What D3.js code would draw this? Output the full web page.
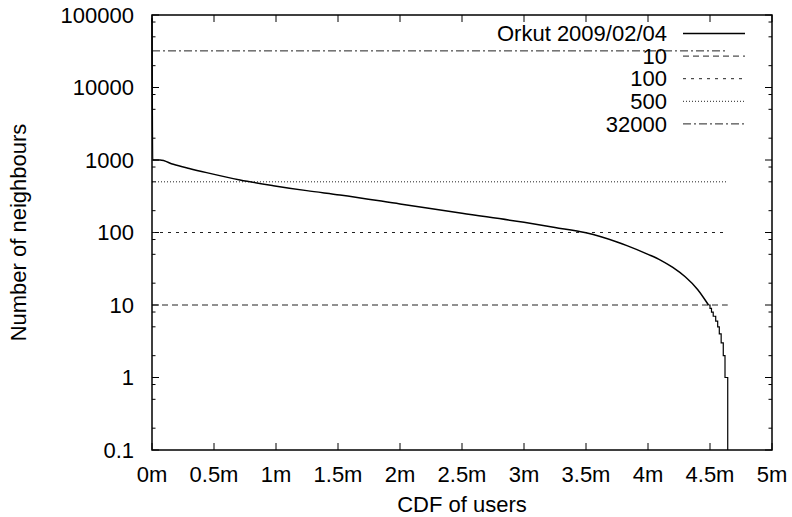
<!DOCTYPE html>
<html>
<head>
<meta charset="utf-8">
<script src="https://cdn.jsdelivr.net/npm/d3@7"></script>
<style>
  body { margin: 0; background: #fff; }
  svg { font-family: "Liberation Sans", Arial, sans-serif; }
</style>
</head>
<body>
<div id="chart"></div>
<script>
// CDF position (millions of users) and neighbour count
const users = [0, 0.005, 0.065, 0.172, 0.3, 0.44, 0.71, 0.978, 1.248, 1.516, 2.0, 2.5, 3.0, 3.25, 3.5, 3.75, 3.83, 4.0, 4.1, 4.2, 4.3, 4.4, 4.488];
const neighbours = [90000, 1000, 1000, 873, 765, 670, 531, 443, 378, 330, 248, 184, 138, 117.5, 99, 74, 66, 50, 41.7, 33, 24.5, 16.4, 10];

// integer staircase at the tail
const tailUsers = [4.488, 4.5, 4.512, 4.526, 4.546, 4.562, 4.575, 4.59, 4.607, 4.621, 4.643, 4.643];
const tailNeighbours = [10, 9, 8, 7, 6, 5, 4, 3, 2, 1, 1, 0.1];

// reference levels
const limits = [10, 100, 500, 32000];
const limitDash = ['6,4', '3,5', '1,2', '8,3,2,3'];
const seriesName = 'Orkut 2009/02/04';

const xTicks = [0, 0.5, 1, 1.5, 2, 2.5, 3, 3.5, 4, 4.5, 5];
const yTicks = [0.1, 1, 10, 100, 1000, 10000, 100000];
const yMinor = [];
[0.1, 1, 10, 100, 1000, 10000].forEach(d => [2, 5, 8].forEach(m => yMinor.push(d * m)));

const W = 792, H = 517;
const margin = { top: 15, right: 20, bottom: 67, left: 152 };
const w = W - margin.left - margin.right;
const h = H - margin.top - margin.bottom;

const svg = d3.select('#chart').append('svg')
    .attr('width', W)
    .attr('height', H);

const g = svg.append('g').attr('transform', `translate(${margin.left},${margin.top})`);

const x = d3.scaleLinear().domain([0, 5]).range([0, w]);
const y = d3.scaleLog().domain([0.1, 100000]).range([h, 0]);

// ticks (inward, mirrored)
const majorLen = 7, minorLen = 3.5;
const tickG = g.append('g').attr('stroke', '#000').attr('stroke-width', 1);
xTicks.forEach(t => {
    tickG.append('line').attr('x1', x(t)).attr('x2', x(t)).attr('y1', h).attr('y2', h - majorLen);
    tickG.append('line').attr('x1', x(t)).attr('x2', x(t)).attr('y1', 0).attr('y2', majorLen);
});
yTicks.forEach(t => {
    tickG.append('line').attr('x1', 0).attr('x2', majorLen).attr('y1', y(t)).attr('y2', y(t));
    tickG.append('line').attr('x1', w).attr('x2', w - majorLen).attr('y1', y(t)).attr('y2', y(t));
});
yMinor.forEach(t => {
    tickG.append('line').attr('x1', 0).attr('x2', minorLen).attr('y1', y(t)).attr('y2', y(t));
    tickG.append('line').attr('x1', w).attr('x2', w - minorLen).attr('y1', y(t)).attr('y2', y(t));
});

// tick labels
g.append('g').selectAll('text')
    .data(xTicks)
    .enter().append('text')
    .attr('x', d => x(d))
    .attr('y', h + 32)
    .attr('text-anchor', 'middle')
    .attr('font-size', '22px')
    .text(d => d + 'm');

g.append('g').selectAll('text')
    .data(yTicks)
    .enter().append('text')
    .attr('x', -18)
    .attr('y', d => y(d))
    .attr('dy', '0.35em')
    .attr('text-anchor', 'end')
    .attr('font-size', '22px')
    .text(d => d3.format('')(d));

// axis titles
svg.append('text')
    .attr('x', margin.left + w / 2)
    .attr('y', 512)
    .attr('text-anchor', 'middle')
    .attr('font-size', '22px')
    .text('CDF of users');

svg.append('text')
    .attr('transform', `translate(26,${margin.top + h / 2}) rotate(-90)`)
    .attr('text-anchor', 'middle')
    .attr('font-size', '22px')
    .text('Number of neighbours');

// reference lines
const xMax = d3.max(tailUsers);
g.append('g').selectAll('line')
    .data(limits)
    .enter().append('line')
    .attr('x1', x(0))
    .attr('x2', x(xMax))
    .attr('y1', d => y(d))
    .attr('y2', d => y(d))
    .attr('stroke', '#222')
    .attr('stroke-width', 1)
    .attr('stroke-dasharray', (d, i) => limitDash[i]);

// main curve
const line = d3.line().x(d => x(d[0])).y(d => y(d[1]));
const mainData = users.map((u, i) => [u, neighbours[i]]);
const tailData = tailUsers.map((u, i) => [u, tailNeighbours[i]]);

g.append('path')
    .datum(mainData)
    .attr('fill', 'none')
    .attr('stroke', '#000')
    .attr('stroke-width', 1.5)
    .attr('d', line.curve(d3.curveMonotoneX));

g.append('path')
    .datum(tailData)
    .attr('fill', 'none')
    .attr('stroke', '#000')
    .attr('stroke-width', 1.2)
    .attr('d', line.curve(d3.curveStepAfter));

// border
g.append('rect')
    .attr('x', 0).attr('y', 0)
    .attr('width', w).attr('height', h)
    .attr('fill', 'none')
    .attr('stroke', '#000')
    .attr('stroke-width', 1.5);

// legend
const legendItems = [{ name: seriesName, dash: null }]
    .concat(limits.map((d, i) => ({ name: String(d), dash: limitDash[i] })));
const legend = svg.append('g');
legendItems.forEach((d, i) => {
    const ly = 33.5 + i * 22.6;
    legend.append('text')
        .attr('x', 667)
        .attr('y', ly)
        .attr('dy', '0.35em')
        .attr('text-anchor', 'end')
        .attr('font-size', '22px')
        .text(d.name);
    legend.append('line')
        .attr('x1', 683).attr('x2', 745)
        .attr('y1', ly).attr('y2', ly)
        .attr('stroke', d.dash ? '#222' : '#000')
        .attr('stroke-width', d.dash ? 1 : 1.5)
        .attr('stroke-dasharray', d.dash);
});
</script>
</body>
</html>
